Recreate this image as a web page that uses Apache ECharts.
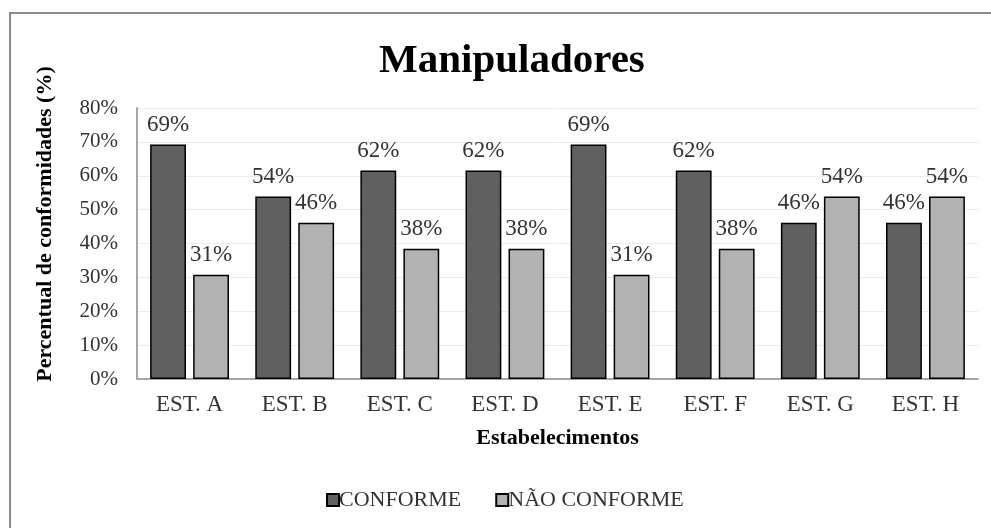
<!DOCTYPE html>
<html lang="pt">
<head>
    <meta charset="UTF-8">
    <title>Manipuladores</title>
    <script src="https://cdn.jsdelivr.net/npm/echarts@6/dist/echarts.min.js"></script>
</head>
<body style="margin:0;background:#fff;">
    <div id="main" style="width:991px;height:528px;"></div>

    <script>
        // dados (13 itens avaliados)
        const categorias = ['EST. A', 'EST. B', 'EST. C', 'EST. D', 'EST. E', 'EST. F', 'EST. G', 'EST. H'];
        const conforme = [69.23, 53.85, 61.54, 61.54, 69.23, 61.54, 46.15, 46.15];
        const naoConforme = [30.77, 46.15, 38.46, 38.46, 30.77, 38.46, 53.85, 53.85];

        const fonte = '"Liberation Serif", "Times New Roman", serif';

        function rotulo(p) {
            return Math.round(p.value) + '%';
        }

        const option = {
            backgroundColor: '#fff',
            textStyle: { fontFamily: fonte },
            title: {
                text: 'Manipuladores',
                left: 374,
                top: 36,
                textStyle: { fontFamily: fonte, fontSize: 41, fontWeight: 'bold', color: '#000' }
            },
            legend: {
                bottom: 12,
                left: 321,
                itemWidth: 12,
                itemHeight: 12,
                itemGap: 34,
                icon: 'rect',
                textStyle: { fontFamily: fonte, fontSize: 22, color: '#333', padding: [0, 0, 0, -5] },
                data: ['CONFORME', 'NÃO CONFORME']
            },
            grid: { left: 137, right: 13, top: 108, bottom: 149 },
            xAxis: {
                type: 'category',
                data: categorias,
                name: 'Estabelecimentos',
                nameLocation: 'middle',
                nameGap: 48,
                nameTextStyle: { fontFamily: fonte, fontSize: 22, fontWeight: 'bold', color: '#000' },
                axisLine: { lineStyle: { color: '#a6a6a6', width: 2 } },
                axisTick: { show: false },
                axisLabel: { fontFamily: fonte, fontSize: 23, color: '#333', margin: 14 }
            },
            yAxis: {
                type: 'value',
                min: 0,
                max: 80,
                interval: 10,
                axisLine: { show: true, lineStyle: { color: '#a6a6a6', width: 2 } },
                axisTick: { show: false },
                axisLabel: { fontFamily: fonte, fontSize: 21, color: '#333', margin: 19, formatter: '{value}%' },
                splitLine: { lineStyle: { color: '#ececec', width: 1 } }
            },
            graphic: [
                {
                    type: 'rect',
                    shape: { x: 10, y: 13, width: 1000, height: 600 },
                    style: { fill: 'none', stroke: '#8c8c8c', lineWidth: 2 },
                    z: -1
                },
                {
                    type: 'text',
                    x: 45,
                    y: 224,
                    rotation: Math.PI / 2,
                    style: {
                        text: 'Percentual de conformidades (%)',
                        font: 'bold 22px ' + fonte,
                        fill: '#000',
                        textAlign: 'center',
                        textVerticalAlign: 'middle'
                    }
                }
            ],
            series: [
                {
                    name: 'CONFORME',
                    type: 'bar',
                    data: conforme,
                    barGap: '20%',
                    barCategoryGap: '25%',
                    itemStyle: { color: '#606060', borderColor: '#000', borderWidth: 1.5 },
                    label: { show: true, position: 'top', distance: 8, formatter: rotulo,
                        fontFamily: fonte, fontSize: 23, color: '#333' }
                },
                {
                    name: 'NÃO CONFORME',
                    type: 'bar',
                    data: naoConforme,
                    itemStyle: { color: '#b2b2b2', borderColor: '#000', borderWidth: 1.5 },
                    label: { show: true, position: 'top', distance: 8, formatter: rotulo,
                        fontFamily: fonte, fontSize: 23, color: '#333' }
                }
            ]
        };

        var myChart = echarts.init(document.getElementById('main'));
        myChart.setOption(option);
    </script>
</body>
</html>
